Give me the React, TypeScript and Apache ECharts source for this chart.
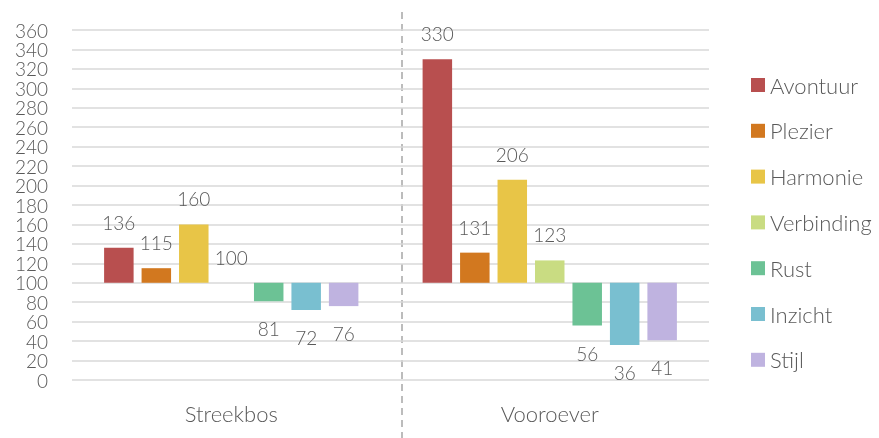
import React, { useEffect, useRef } from "react";
import * as echarts from "echarts";

const categories = ["Streekbos", "Vooroever"];
const seriesNames = ["Avontuur", "Plezier", "Harmonie", "Verbinding", "Rust", "Inzicht", "Stijl"];
const avontuur = [136, 330];
const plezier = [115, 131];
const harmonie = [160, 206];
const verbinding = [100, 123];
const rust = [81, 56];
const inzicht = [72, 36];
const stijl = [76, 41];
const seriesValues = [avontuur, plezier, harmonie, verbinding, rust, inzicht, stijl];
const colors = ["#B84F4F", "#D2781F", "#E8C547", "#C9DC82", "#6CC295", "#79BFD0", "#BFB3E0"];
const baseline = 100;
const yMin = 0;
const yMax = 360;
const yStep = 20;

const FONT = "Lato";
const TEXT = "#595959";

export default function App() {
  const ref = useRef<HTMLDivElement>(null);
  useEffect(() => {
    if (!ref.current) return;
    const chart = echarts.init(ref.current, undefined, { renderer: "svg" });
    const series: any[] = [];
    seriesValues.forEach((vals, i) => {
      const stack = "s" + i;
      series.push({
        type: "bar",
        name: "__base" + i,
        stack,
        barWidth: 29.5,
        barGap: "27%",
        itemStyle: { color: "transparent" },
        emphasis: { disabled: true },
        silent: true,
        data: vals.map((v) => Math.min(v, baseline)),
      });
      series.push({
        type: "bar",
        name: seriesNames[i],
        stack,
        barWidth: 29.5,
        barGap: "27%",
        itemStyle: { color: colors[i] },
        data: vals.map((v) => ({
          value: Math.abs(v - baseline),
          label: {
            show: true,
            position: v >= baseline ? "top" : "bottom",
            distance: v >= baseline ? 16 : 18,
            formatter: String(v),
            color: TEXT,
            fontFamily: FONT,
            fontWeight: 300,
            fontSize: 19,
            lineHeight: 19,
          },
        })),
      });
    });
    chart.setOption({
      animation: false,
      color: colors,
      textStyle: { fontFamily: FONT },
      grid: { left: 72, right: 170, top: 30, bottom: 58 },
      legend: {
        orient: "vertical",
        left: 751,
        top: 74,
        padding: 0,
        itemWidth: 14,
        itemHeight: 14,
        itemGap: 23.8,
        icon: "rect",
        data: seriesNames,
        textStyle: { color: TEXT, fontSize: 22, lineHeight: 22, fontFamily: FONT, fontWeight: 300 },
      },
      xAxis: {
        type: "category",
        data: categories,
        axisLine: { show: false },
        axisTick: { show: false },
        axisLabel: { color: TEXT, fontSize: 22, lineHeight: 22, fontFamily: FONT, fontWeight: 300, margin: 22 },
      },
      yAxis: {
        type: "value",
        min: yMin,
        max: yMax,
        interval: yStep,
        axisLine: { show: false },
        axisTick: { show: false },
        axisLabel: { color: TEXT, fontSize: 19, lineHeight: 19, fontFamily: FONT, fontWeight: 300, margin: 24 },
        splitLine: { lineStyle: { color: "#D9D9D9", width: 1.5 } },
      },
      graphic: [
        {
          type: "line",
          shape: { x1: 402, y1: 12, x2: 402, y2: 438 },
          style: { stroke: "#A6A6A6", lineWidth: 1.5, lineDash: [7, 5] },
          silent: true,
        },
      ],
      series,
    });
    return () => chart.dispose();
  }, []);
  return <div ref={ref} style={{ position: "fixed", left: 0, top: 0, width: 879, height: 438 }} />;
}
